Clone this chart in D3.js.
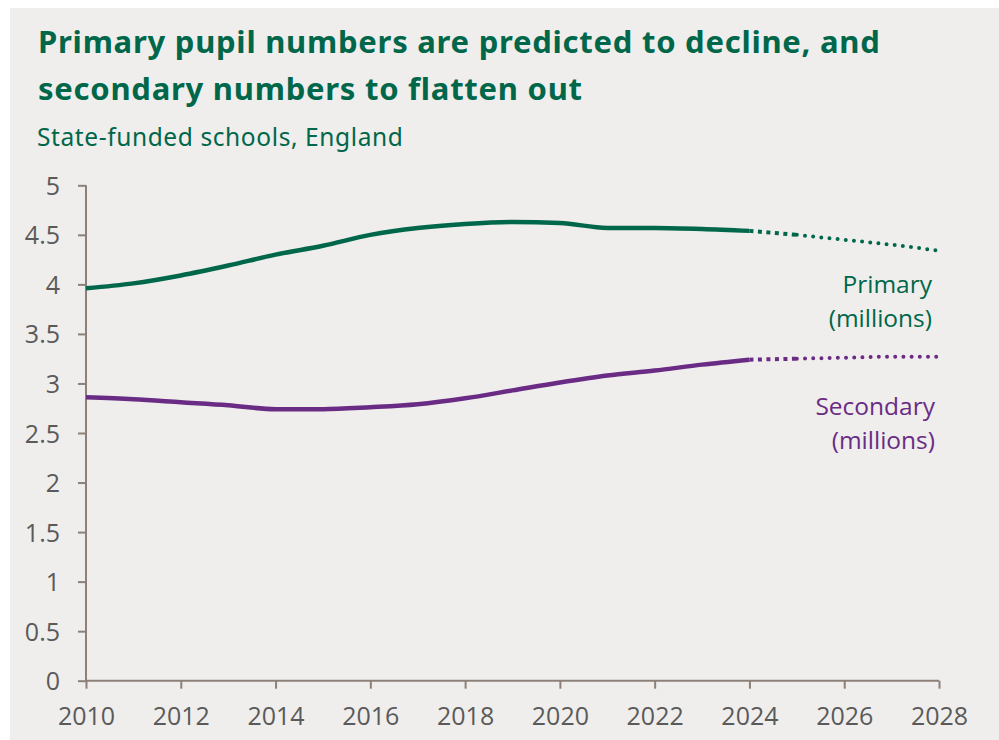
<!DOCTYPE html>
<html><head><meta charset="utf-8">
<script src="https://cdn.jsdelivr.net/npm/d3@7"></script>
<style>
html,body{margin:0;padding:0;background:#fff;}
svg{display:block;}
</style></head>
<body>
<svg id="chart" width="999" height="740"></svg>
<script>
const years = [2010,2011,2012,2013,2014,2015,2016,2017,2018,2019,2020,2021,2022,2023,2024];
const primary = [3.96,4.01,4.09,4.19,4.30,4.39,4.50,4.57,4.61,4.63,4.62,4.57,4.57,4.56,4.54];
const secondary = [2.86,2.84,2.81,2.78,2.74,2.74,2.76,2.79,2.85,2.93,3.01,3.08,3.13,3.19,3.24];
const projYears = [2024,2025,2026,2027,2028];
const primaryProj = [4.54,4.50,4.45,4.40,4.34];
const secondaryProj = [3.24,3.25,3.26,3.27,3.27];
const xTicks = [2010,2012,2014,2016,2018,2020,2022,2024,2026,2028];
const yTicks = [0,0.5,1,1.5,2,2.5,3,3.5,4,4.5,5];

const green = "#00674a", purple = "#6a2b85", axisCol = "#8c8079", tickText = "#5a5a5a";
const svg = d3.select("#chart");
svg.append("rect").attr("x",10).attr("y",8).attr("width",989).attr("height",732).attr("fill","#efeeec");

const title = (t,yy)=>svg.append("text").attr("x",38).attr("y",yy).attr("fill",green)
  .style("font-family","'Noto Sans', sans-serif").style("font-weight","700").style("font-size","31px")
  .style("letter-spacing","0.75px").text(t);
title("Primary pupil numbers are predicted to decline, and",53);
title("secondary numbers to flatten out",100);
svg.append("text").attr("x",37).attr("y",146).attr("fill",green)
  .style("font-family","'Noto Sans', sans-serif").style("font-size","24.5px").style("letter-spacing","0.6px")
  .text("State-funded schools, England");

const x = d3.scaleLinear().domain([2010,2028]).range([86,939]);
const y = d3.scaleLinear().domain([0,5]).range([680.7,185.3]);

const yAxis = svg.append("g").attr("transform","translate(86,0)")
  .call(d3.axisLeft(y).tickValues(yTicks).tickFormat(d=>String(d)).tickSize(8).tickSizeOuter(0));
const xAxis = svg.append("g").attr("transform","translate(0,680.7)")
  .call(d3.axisBottom(x).tickValues(xTicks).tickFormat(d=>String(d)).tickSize(8).tickSizeOuter(0));
[yAxis,xAxis].forEach(a=>{
  a.select(".domain").attr("stroke",axisCol).attr("stroke-width",2);
  a.selectAll(".tick line").attr("stroke",axisCol).attr("stroke-width",2);
  a.selectAll(".tick text").attr("fill",tickText).style("font-family","'Open Sans', sans-serif").style("font-size","25px");
});
yAxis.selectAll(".tick text").attr("x",-26).attr("dy","0.36em");
yAxis.select(".domain").attr("d","M0,185.3V680.7");
xAxis.selectAll(".tick text").attr("y",27).attr("dy","0.71em");
xAxis.select(".domain").attr("d","M86,0H939");

const line = d3.line().x(d=>x(d[0])).y(d=>y(d[1])).curve(d3.curveMonotoneX);
function drawSeries(vals, proj, col){
  svg.append("path").attr("d", line(years.map((yr,i)=>[yr,vals[i]])))
    .attr("fill","none").attr("stroke",col).attr("stroke-width",4.5);
  const pp = projYears.map((yr,i)=>[yr,proj[i]]);
  svg.append("path").attr("d", line(pp.slice(0,2)))
    .attr("fill","none").attr("stroke",col).attr("stroke-width",4).attr("stroke-dasharray","4,4.5");
  svg.append("path").attr("d", line(pp.slice(1)))
    .attr("fill","none").attr("stroke",col).attr("stroke-width",4).attr("stroke-linecap","round").attr("stroke-dasharray","0,8.2");
}
drawSeries(primary, primaryProj, green);
drawSeries(secondary, secondaryProj, purple);

const lab = (t,xx,yy,col)=>svg.append("text").attr("x",xx).attr("y",yy).attr("text-anchor","end").attr("fill",col)
  .style("font-family","'Open Sans', sans-serif").style("font-size","24.5px").text(t);
lab("Primary",932,293,green);
lab("(millions)",932,327,green);
lab("Secondary",935,415,purple);
lab("(millions)",935,449,purple);
</script>
</body></html>
